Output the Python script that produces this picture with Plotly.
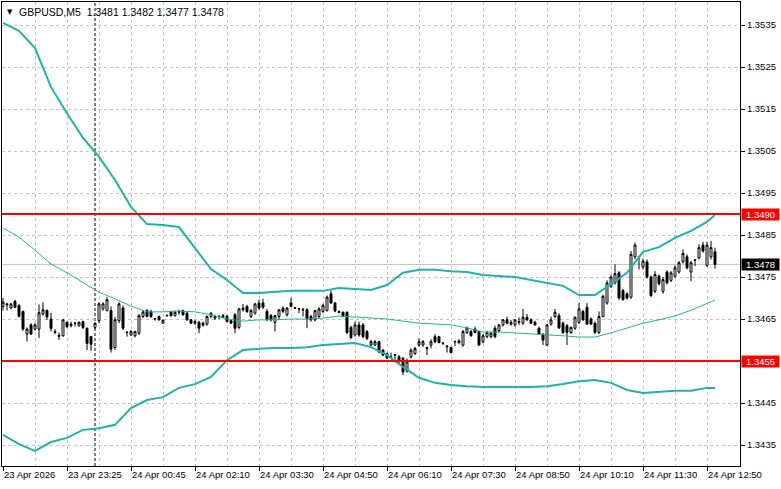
import plotly.graph_objects as go

symbol = "GBPUSD,M5"

opens = [
    1.34680, 1.34686, 1.34676, 1.34692, 1.34682, 1.34668, 1.34614, 1.34636, 1.34626, 1.34626,
    1.34662, 1.34670, 1.34650, 1.34620, 1.34611, 1.34610, 1.34642, 1.34634, 1.34640, 1.34634,
    1.34644, 1.34628, 1.34608, 1.34630, 1.34646, 1.34674, 1.34670, 1.34670, 1.34582, 1.34646,
    1.34676, 1.34619, 1.34612, 1.34610, 1.34616, 1.34656, 1.34670, 1.34668, 1.34650, 1.34656,
    1.34640, 1.34659, 1.34668, 1.34658, 1.34666, 1.34670, 1.34664, 1.34648, 1.34640, 1.34642,
    1.34640, 1.34638, 1.34656, 1.34652, 1.34657, 1.34654, 1.34656, 1.34646, 1.34660, 1.34630,
    1.34672, 1.34680, 1.34656, 1.34664, 1.34688, 1.34688, 1.34668, 1.34658, 1.34642, 1.34656,
    1.34676, 1.34660, 1.34688, 1.34677, 1.34675, 1.34673, 1.34672, 1.34656, 1.34648, 1.34656,
    1.34668, 1.34670, 1.34710, 1.34688, 1.34668, 1.34666, 1.34666, 1.34630, 1.34612, 1.34636,
    1.34636, 1.34620, 1.34588, 1.34588, 1.34596, 1.34576, 1.34568, 1.34558, 1.34565, 1.34560,
    1.34556, 1.34526, 1.34560, 1.34568, 1.34588, 1.34588, 1.34582, 1.34588, 1.34608, 1.34608,
    1.34592, 1.34586, 1.34582, 1.34597, 1.34594, 1.34588, 1.34618, 1.34620, 1.34626, 1.34620,
    1.34596, 1.34608, 1.34608, 1.34628, 1.34622, 1.34636, 1.34648, 1.34638, 1.34636, 1.34642,
    1.34640, 1.34654, 1.34648, 1.34642, 1.34628, 1.34614, 1.34588, 1.34638, 1.34656, 1.34658,
    1.34640, 1.34634, 1.34618, 1.34628, 1.34642, 1.34668, 1.34678, 1.34650, 1.34640, 1.34618,
    1.34656, 1.34688, 1.34728, 1.34736, 1.34760, 1.34718, 1.34710, 1.34702, 1.34798, 1.34799,
    1.34774, 1.34786, 1.34750, 1.34716, 1.34752, 1.34716, 1.34762, 1.34742, 1.34752, 1.34762,
    1.34786, 1.34798, 1.34762, 1.34791, 1.34796, 1.34826, 1.34778, 1.34798, 1.34810,
]
highs = [
    1.34700, 1.34688, 1.34688, 1.34696, 1.34686, 1.34670, 1.34630, 1.34640, 1.34640, 1.34685,
    1.34690, 1.34673, 1.34665, 1.34626, 1.34618, 1.34650, 1.34644, 1.34644, 1.34642, 1.34644,
    1.34646, 1.34630, 1.34610, 1.34642, 1.34690, 1.34690, 1.34702, 1.34680, 1.34655, 1.34690,
    1.34682, 1.34620, 1.34624, 1.34622, 1.34662, 1.34670, 1.34674, 1.34672, 1.34652, 1.34658,
    1.34649, 1.34660, 1.34670, 1.34670, 1.34672, 1.34672, 1.34668, 1.34650, 1.34648, 1.34646,
    1.34644, 1.34658, 1.34666, 1.34660, 1.34658, 1.34662, 1.34660, 1.34648, 1.34664, 1.34676,
    1.34686, 1.34684, 1.34674, 1.34688, 1.34696, 1.34698, 1.34674, 1.34662, 1.34660, 1.34674,
    1.34680, 1.34678, 1.34700, 1.34678, 1.34676, 1.34676, 1.34676, 1.34660, 1.34672, 1.34678,
    1.34686, 1.34706, 1.34718, 1.34690, 1.34670, 1.34668, 1.34668, 1.34634, 1.34644, 1.34644,
    1.34640, 1.34624, 1.34600, 1.34600, 1.34598, 1.34578, 1.34570, 1.34570, 1.34566, 1.34564,
    1.34560, 1.34556, 1.34580, 1.34584, 1.34604, 1.34600, 1.34584, 1.34602, 1.34614, 1.34610,
    1.34594, 1.34588, 1.34584, 1.34598, 1.34602, 1.34624, 1.34632, 1.34624, 1.34632, 1.34622,
    1.34614, 1.34622, 1.34620, 1.34634, 1.34638, 1.34650, 1.34656, 1.34648, 1.34650, 1.34654,
    1.34674, 1.34662, 1.34652, 1.34646, 1.34632, 1.34616, 1.34638, 1.34656, 1.34674, 1.34664,
    1.34644, 1.34638, 1.34632, 1.34656, 1.34688, 1.34672, 1.34688, 1.34654, 1.34644, 1.34668,
    1.34708, 1.34742, 1.34754, 1.34780, 1.34764, 1.34722, 1.34714, 1.34812, 1.34832, 1.34800,
    1.34794, 1.34792, 1.34754, 1.34764, 1.34756, 1.34750, 1.34766, 1.34764, 1.34778, 1.34788,
    1.34816, 1.34804, 1.34788, 1.34792, 1.34828, 1.34834, 1.34834, 1.34836, 1.34820,
]
lows = [
    1.34670, 1.34670, 1.34674, 1.34676, 1.34654, 1.34622, 1.34596, 1.34612, 1.34622, 1.34605,
    1.34658, 1.34648, 1.34620, 1.34614, 1.34600, 1.34608, 1.34628, 1.34630, 1.34632, 1.34632,
    1.34626, 1.34576, 1.34574, 1.34626, 1.34640, 1.34670, 1.34668, 1.34570, 1.34576, 1.34640,
    1.34624, 1.34608, 1.34610, 1.34606, 1.34612, 1.34652, 1.34654, 1.34652, 1.34646, 1.34646,
    1.34638, 1.34656, 1.34656, 1.34656, 1.34660, 1.34658, 1.34646, 1.34638, 1.34636, 1.34616,
    1.34632, 1.34634, 1.34652, 1.34648, 1.34650, 1.34652, 1.34642, 1.34638, 1.34616, 1.34626,
    1.34668, 1.34664, 1.34652, 1.34660, 1.34672, 1.34674, 1.34646, 1.34644, 1.34620, 1.34650,
    1.34664, 1.34656, 1.34678, 1.34674, 1.34664, 1.34656, 1.34628, 1.34644, 1.34644, 1.34652,
    1.34664, 1.34668, 1.34686, 1.34666, 1.34664, 1.34654, 1.34614, 1.34602, 1.34608, 1.34608,
    1.34604, 1.34600, 1.34584, 1.34586, 1.34568, 1.34562, 1.34554, 1.34554, 1.34550, 1.34546,
    1.34516, 1.34522, 1.34556, 1.34564, 1.34584, 1.34584, 1.34564, 1.34580, 1.34592, 1.34592,
    1.34588, 1.34570, 1.34568, 1.34586, 1.34590, 1.34584, 1.34614, 1.34608, 1.34616, 1.34586,
    1.34592, 1.34604, 1.34604, 1.34604, 1.34618, 1.34632, 1.34638, 1.34634, 1.34632, 1.34636,
    1.34636, 1.34646, 1.34638, 1.34634, 1.34612, 1.34588, 1.34586, 1.34634, 1.34652, 1.34626,
    1.34614, 1.34588, 1.34614, 1.34624, 1.34638, 1.34646, 1.34636, 1.34636, 1.34614, 1.34614,
    1.34654, 1.34684, 1.34724, 1.34732, 1.34696, 1.34694, 1.34696, 1.34698, 1.34792, 1.34768,
    1.34768, 1.34746, 1.34702, 1.34712, 1.34730, 1.34710, 1.34732, 1.34738, 1.34748, 1.34758,
    1.34782, 1.34768, 1.34740, 1.34776, 1.34792, 1.34808, 1.34774, 1.34792, 1.34770,
]
closes = [
    1.34690, 1.34684, 1.34686, 1.34678, 1.34656, 1.34626, 1.34626, 1.34614, 1.34636, 1.34665,
    1.34672, 1.34655, 1.34628, 1.34618, 1.34609, 1.34648, 1.34632, 1.34638, 1.34640, 1.34642,
    1.34630, 1.34592, 1.34590, 1.34640, 1.34686, 1.34686, 1.34696, 1.34578, 1.34648, 1.34686,
    1.34628, 1.34618, 1.34620, 1.34620, 1.34658, 1.34667, 1.34656, 1.34656, 1.34651, 1.34648,
    1.34647, 1.34658, 1.34658, 1.34666, 1.34668, 1.34660, 1.34648, 1.34640, 1.34644, 1.34628,
    1.34635, 1.34656, 1.34664, 1.34656, 1.34656, 1.34658, 1.34644, 1.34640, 1.34628, 1.34674,
    1.34676, 1.34668, 1.34670, 1.34686, 1.34676, 1.34678, 1.34648, 1.34648, 1.34658, 1.34672,
    1.34668, 1.34676, 1.34680, 1.34676, 1.34674, 1.34672, 1.34650, 1.34648, 1.34670, 1.34674,
    1.34682, 1.34702, 1.34688, 1.34669, 1.34666, 1.34656, 1.34618, 1.34606, 1.34636, 1.34612,
    1.34608, 1.34604, 1.34596, 1.34596, 1.34572, 1.34564, 1.34557, 1.34560, 1.34564, 1.34548,
    1.34524, 1.34548, 1.34576, 1.34580, 1.34596, 1.34596, 1.34580, 1.34596, 1.34596, 1.34594,
    1.34593, 1.34584, 1.34570, 1.34596, 1.34598, 1.34620, 1.34629, 1.34610, 1.34618, 1.34588,
    1.34610, 1.34618, 1.34616, 1.34608, 1.34636, 1.34648, 1.34640, 1.34642, 1.34648, 1.34644,
    1.34654, 1.34648, 1.34640, 1.34636, 1.34614, 1.34600, 1.34636, 1.34648, 1.34666, 1.34629,
    1.34618, 1.34618, 1.34630, 1.34654, 1.34674, 1.34648, 1.34638, 1.34638, 1.34618, 1.34656,
    1.34704, 1.34736, 1.34750, 1.34758, 1.34700, 1.34696, 1.34700, 1.34804, 1.34826, 1.34798,
    1.34788, 1.34750, 1.34706, 1.34756, 1.34734, 1.34744, 1.34736, 1.34760, 1.34772, 1.34784,
    1.34806, 1.34772, 1.34784, 1.34790, 1.34820, 1.34812, 1.34826, 1.34820, 1.34780,
]

# Bollinger band values at every 4th bar (and the last bar)
band_bars = [0, 4, 8, 12, 16, 20, 24, 28, 32, 36, 40, 44, 48, 52, 56, 60, 64, 68, 72, 76,
             80, 84, 88, 92, 96, 100, 104, 108, 112, 116, 120, 124, 128, 132, 136, 140,
             144, 148, 152, 156, 160, 164, 168, 172, 176, 178]
upper_band = [1.35355, 1.35336, 1.35295, 1.35202, 1.35140, 1.35081, 1.35036, 1.34981,
              1.34917, 1.34876, 1.34874, 1.34869, 1.34819, 1.34769, 1.34743, 1.34712,
              1.34712, 1.34714, 1.34717, 1.34717, 1.34717, 1.34724, 1.34721, 1.34719,
              1.34731, 1.34760, 1.34767, 1.34767, 1.34764, 1.34762, 1.34755, 1.34752,
              1.34750, 1.34743, 1.34736, 1.34729, 1.34707, 1.34707, 1.34733, 1.34760,
              1.34810, 1.34821, 1.34843, 1.34860, 1.34881, 1.34898]
middle_band = [1.34867, 1.34845, 1.34814, 1.34781, 1.34760, 1.34738, 1.34714, 1.34698,
               1.34681, 1.34667, 1.34667, 1.34669, 1.34667, 1.34660, 1.34650, 1.34645,
               1.34648, 1.34648, 1.34650, 1.34650, 1.34652, 1.34657, 1.34655, 1.34652,
               1.34650, 1.34645, 1.34640, 1.34638, 1.34636, 1.34629, 1.34619, 1.34619,
               1.34617, 1.34614, 1.34612, 1.34610, 1.34607, 1.34607, 1.34617, 1.34629,
               1.34640, 1.34648, 1.34657, 1.34671, 1.34686, 1.34695]
lower_band = [1.34374, 1.34352, 1.34336, 1.34357, 1.34367, 1.34386, 1.34390, 1.34398,
              1.34438, 1.34457, 1.34464, 1.34486, 1.34495, 1.34512, 1.34552, 1.34576,
              1.34579, 1.34581, 1.34581, 1.34583, 1.34588, 1.34590, 1.34593, 1.34583,
              1.34564, 1.34536, 1.34510, 1.34498, 1.34493, 1.34490, 1.34488, 1.34488,
              1.34488, 1.34488, 1.34490, 1.34495, 1.34502, 1.34505, 1.34498, 1.34481,
              1.34474, 1.34476, 1.34479, 1.34479, 1.34486, 1.34486]

tick_labels = ["23 Apr 2026", "23 Apr 23:25", "24 Apr 00:45", "24 Apr 02:10",
               "24 Apr 03:30", "24 Apr 04:50", "24 Apr 06:10", "24 Apr 07:30",
               "24 Apr 08:50", "24 Apr 10:10", "24 Apr 11:30", "24 Apr 12:50"]
bars_per_label = 16
price_ticks = [1.3435, 1.3445, 1.3455, 1.3465, 1.3475, 1.3485,
               1.3495, 1.3505, 1.3515, 1.3525, 1.3535]
levels = [1.3490, 1.3455]
day_separator_bar = 23

FONT = "Liberation Sans"
TEAL = "#20b2aa"
GRID = "#c0c0c0"
AXIS_FS = 9.5
HEAD_FS = 10.5

bars = list(range(len(opens)))
# a price tick hidden behind a level label is left blank, as in the original
price_ticktext = ["" if any(abs(t - lv) < 0.00005 for lv in levels) else f"{t:.4f}"
                  for t in price_ticks]

fig = go.Figure()
fig.add_trace(go.Candlestick(
    x=bars, open=opens, high=highs, low=lows, close=closes,
    increasing=dict(line=dict(color="black", width=1), fillcolor="white"),
    decreasing=dict(line=dict(color="black", width=1), fillcolor="black"),
    whiskerwidth=0, hoverinfo="skip", showlegend=False,
))
fig.add_trace(go.Scatter(x=band_bars, y=middle_band, mode="lines",
                         line=dict(color=TEAL, width=1), hoverinfo="skip", showlegend=False))
fig.add_trace(go.Scatter(x=band_bars, y=upper_band, mode="lines",
                         line=dict(color=TEAL, width=2), hoverinfo="skip", showlegend=False))
fig.add_trace(go.Scatter(x=band_bars, y=lower_band, mode="lines",
                         line=dict(color=TEAL, width=2), hoverinfo="skip", showlegend=False))

shapes = []
# current price line
shapes.append(dict(type="line", xref="paper", x0=0, x1=1, yref="y",
                   y0=closes[-1], y1=closes[-1], line=dict(color="#c0c0c0", width=1),
                   layer="below"))
# day separator
shapes.append(dict(type="line", xref="x", x0=day_separator_bar, x1=day_separator_bar,
                   yref="paper", y0=0, y1=1, line=dict(color="black", width=1, dash="3px,2px"),
                   layer="below"))
for lv in levels:
    shapes.append(dict(type="line", xref="paper", x0=0, x1=1, yref="y", y0=lv, y1=lv,
                       line=dict(color="#ff0000", width=2), layer="above"))

annotations = []
for lv in levels:
    annotations.append(dict(xref="paper", x=1, xanchor="left", xshift=1, yref="y", y=lv,
                            yanchor="middle", text=f"{lv:.4f}", showarrow=False,
                            bgcolor="#ff0000", width=37, height=11, borderpad=0,
                            font=dict(family=FONT, size=AXIS_FS, color="white")))
annotations.append(dict(xref="paper", x=1, xanchor="left", xshift=1, yref="y", y=closes[-1],
                        yanchor="middle", text=f"{closes[-1]:.4f}", showarrow=False,
                        bgcolor="black", width=37, height=11, borderpad=0,
                        font=dict(family=FONT, size=AXIS_FS, color="white")))
header = (f"{symbol}  {opens[-1]:.4f} {highs[-1]:.4f} {lows[-1]:.4f} {closes[-1]:.4f}")
annotations.append(dict(xref="paper", x=0, xanchor="left", xshift=3, yref="paper", y=1,
                        yanchor="top", yshift=-4, text="▼", showarrow=False,
                        font=dict(family="DejaVu Sans", size=7, color="black")))
annotations.append(dict(xref="paper", x=0, xanchor="left", xshift=15, yref="paper", y=1,
                        yanchor="top", yshift=-2, text=header, showarrow=False,
                        font=dict(family=FONT, size=HEAD_FS, color="black")))

fig.update_layout(
    template="none",
    width=781, height=489,
    margin=dict(l=2, r=41, t=2, b=23, pad=0),
    paper_bgcolor="white", plot_bgcolor="white",
    showlegend=False,
    shapes=shapes, annotations=annotations,
    xaxis=dict(
        range=[-0.25, 184.25], autorange=False,
        rangeslider=dict(visible=False),
        tickmode="array",
        tickvals=[k * bars_per_label for k in range(len(tick_labels))],
        ticktext=tick_labels, tickangle=0,
        ticks="outside", ticklen=4, tickcolor="black", tickwidth=1,
        ticklabelposition="outside right",
        tickfont=dict(family=FONT, size=AXIS_FS, color="black"),
        showgrid=True, gridcolor=GRID, griddash="3px,3px", gridwidth=1,
        minor=dict(tickmode="linear", tick0=0, dtick=bars_per_label // 2, showgrid=True,
                   gridcolor=GRID, griddash="3px,3px", gridwidth=1, ticks=""),
        showline=True, mirror=True, linecolor="black", linewidth=1,
        zeroline=False, automargin=False, fixedrange=True,
    ),
    yaxis=dict(
        side="right",
        range=[1.3430, 1.354048], autorange=False,
        tickmode="array", tickvals=price_ticks, ticktext=price_ticktext,
        ticks="outside", ticklen=4, tickcolor="black", tickwidth=1,
        tickfont=dict(family=FONT, size=AXIS_FS, color="black"),
        showgrid=True, gridcolor=GRID, griddash="3px,3px", gridwidth=1,
        showline=True, mirror=True, linecolor="black", linewidth=1,
        zeroline=False, automargin=False, fixedrange=True,
    ),
)

fig.write_html(
    "out.html",
    config={"displayModeBar": False},
    post_script="document.body.style.margin='0';document.body.style.padding='0';",
)
